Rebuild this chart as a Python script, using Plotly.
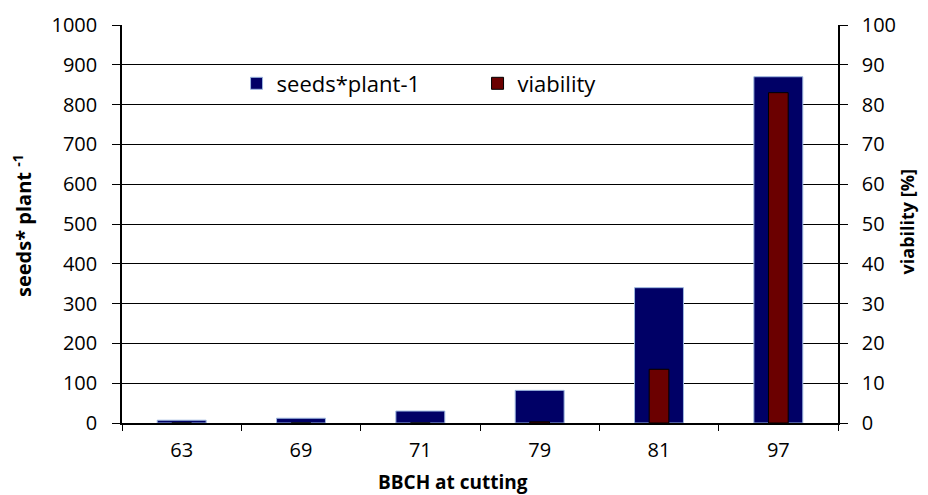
import plotly.graph_objects as go
from plotly.subplots import make_subplots

categories = ["63", "69", "71", "79", "81", "97"]
seeds_per_plant = [7, 12, 30, 82, 340, 870]
viability = [0, 0, 0, 0.3, 13.5, 83]

FONT = "Open Sans"

fig = make_subplots(specs=[[{"secondary_y": True}]])
fig.add_trace(go.Bar(
    x=categories, y=seeds_per_plant, name="seeds*plant-1",
    marker=dict(color="#000066", line=dict(color="#9db8e0", width=1)),
    width=0.41,
), secondary_y=False)
fig.add_trace(go.Bar(
    x=categories, y=viability, name="viability",
    marker=dict(color="#6b0000", line=dict(color="#000000", width=1)),
    width=0.165,
), secondary_y=True)

# page has an 8px body margin, so the figure is sized to the remaining window
fig.update_layout(
    width=920, height=487,
    margin=dict(l=114, r=90, t=17, b=72, autoexpand=False),
    barmode="overlay",
    plot_bgcolor="white", paper_bgcolor="white",
    font=dict(family=FONT, size=20, color="black"),
    showlegend=True,
    legend=dict(orientation="h", x=0.16, y=0.853, xanchor="left", yanchor="middle",
                bgcolor="rgba(255,255,255,0)", font=dict(size=22, family=FONT),
                itemwidth=30, entrywidth=196, traceorder="normal"),
    annotations=[
        dict(text="<b>BBCH at cutting</b>", xref="paper", yref="paper",
             x=0.462, y=-0.148, xanchor="center", yanchor="middle",
             showarrow=False, font=dict(size=19, family=FONT)),
        dict(text="<b>seeds* plant <sup>-1</sup></b>", xref="paper", yref="paper",
             x=-0.14, y=0.497, xanchor="center", yanchor="middle", textangle=-90,
             showarrow=False, font=dict(size=20, family=FONT)),
        dict(text="<b>viability [%]</b>", xref="paper", yref="paper",
             x=1.097, y=0.505, xanchor="center", yanchor="middle", textangle=-90,
             showarrow=False, font=dict(size=18, family=FONT)),
    ],
)
fig.update_xaxes(
    type="category", tickson="boundaries", ticks="outside", ticklen=6,
    tickcolor="black", showline=True, linecolor="black", linewidth=1.5,
    tickfont=dict(size=20), showgrid=False, automargin=False,
    domain=[0, 1], ticklabelstandoff=8,
)
fig.update_yaxes(
    range=[0, 1000], dtick=100, ticks="outside", ticklen=8, tickcolor="black",
    showline=True, linecolor="black", linewidth=1.5,
    showgrid=True, gridcolor="black", gridwidth=1,
    tickfont=dict(size=20), zeroline=False, automargin=False,
    ticklabelstandoff=11,
    secondary_y=False,
)
fig.update_yaxes(
    range=[0, 100], dtick=10, ticks="outside", ticklen=8, tickcolor="black",
    showline=True, linecolor="black", linewidth=1.5, showgrid=False,
    tickfont=dict(size=20), zeroline=False, automargin=False,
    ticklabelstandoff=10,
    secondary_y=True,
)

fig.write_html("out.html")
